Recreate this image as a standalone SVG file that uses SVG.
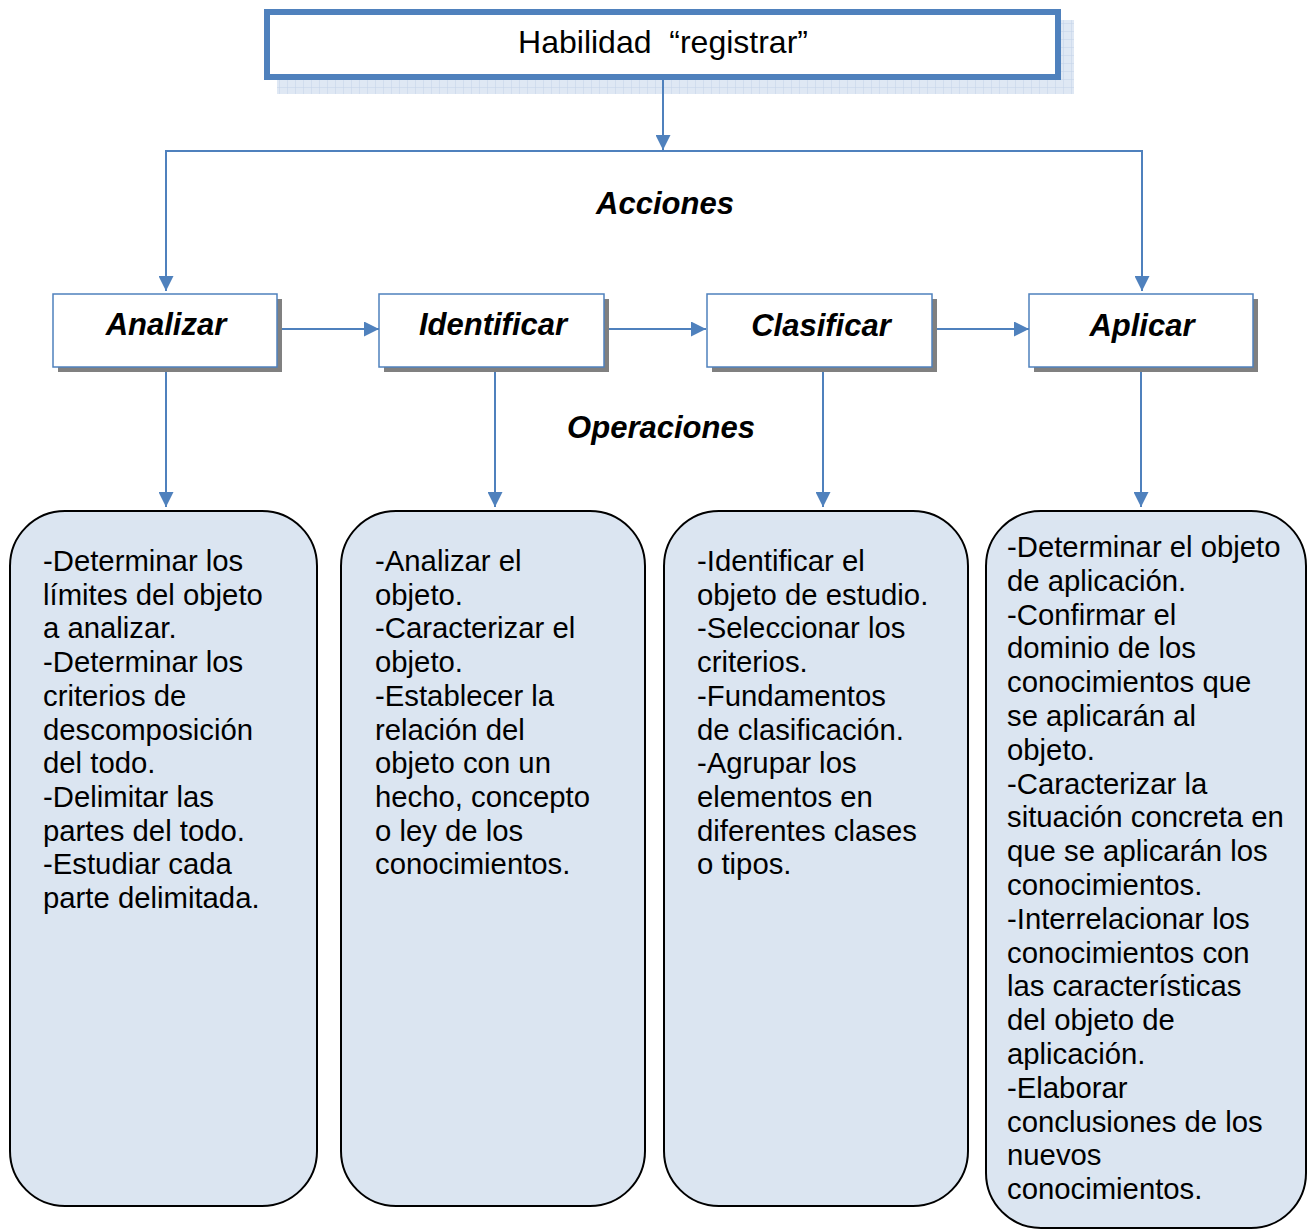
<svg xmlns="http://www.w3.org/2000/svg" width="1315" height="1230" viewBox="0 0 1315 1230">
<defs>
<style>
.conn{fill:none;stroke:#4f81bd;stroke-width:2}
.act{fill:#fff;stroke:#4f81bd;stroke-width:1.5}
.shadow{fill:#808080}
.op{fill:#dbe5f1;stroke:#000;stroke-width:2}
.lbl{font-family:"Liberation Sans",Arial,sans-serif;font-weight:bold;font-style:italic;font-size:31px;fill:#000;text-anchor:middle}
.body{font-family:"Liberation Sans",Arial,sans-serif;font-size:29.3px;fill:#000}
</style>
<pattern id="grid" width="8" height="8" patternUnits="userSpaceOnUse">
<rect width="8" height="8" fill="#dfe8f4"/>
<path d="M8,0 V8 M0,8 H8" stroke="#c3d3e9" stroke-width="1"/>
</pattern>
<marker id="arr" viewBox="0 0 10 10" refX="10" refY="5" markerWidth="15" markerHeight="15" markerUnits="userSpaceOnUse" orient="auto">
<path d="M0,0 L10,5 L0,10 z" fill="#4f81bd"/>
</marker>
</defs>
<rect width="1315" height="1230" fill="#fff"/>

<g id="title">
<rect x="277" y="20" width="797" height="74" fill="url(#grid)"/>
<rect x="267" y="12" width="791" height="65" fill="#fff" stroke="#4f81bd" stroke-width="6"/>
<text x="663" y="53" style="font-family:'Liberation Sans',Arial,sans-serif;font-size:32px;fill:#000;text-anchor:middle" xml:space="preserve">Habilidad  “registrar”</text>
</g>

<g id="connectors">
<line class="conn" x1="663" y1="80" x2="663" y2="150" marker-end="url(#arr)"/>
<polyline class="conn" points="166,291 166,151 1142,151 1142,291"/>
<line class="conn" x1="166" y1="200" x2="166" y2="291" marker-end="url(#arr)"/>
<line class="conn" x1="1142" y1="200" x2="1142" y2="291" marker-end="url(#arr)"/>
<line class="conn" x1="282" y1="329" x2="379" y2="329" marker-end="url(#arr)"/>
<line class="conn" x1="609" y1="329" x2="706" y2="329" marker-end="url(#arr)"/>
<line class="conn" x1="937" y1="329" x2="1029" y2="329" marker-end="url(#arr)"/>
<line class="conn" x1="166" y1="367" x2="166" y2="507" marker-end="url(#arr)"/>
<line class="conn" x1="495" y1="367" x2="495" y2="507" marker-end="url(#arr)"/>
<line class="conn" x1="823" y1="367" x2="823" y2="507" marker-end="url(#arr)"/>
<line class="conn" x1="1141" y1="367" x2="1141" y2="507" marker-end="url(#arr)"/>
</g>

<text id="acciones" class="lbl" x="665" y="214">Acciones</text>
<text id="operaciones" class="lbl" x="661" y="438">Operaciones</text>

<g id="analizar">
<rect class="shadow" x="58" y="299" width="224" height="73"/>
<rect class="act" x="53" y="294" width="224" height="73"/>
<text class="lbl" x="166" y="335">Analizar</text>
</g>
<g id="identificar">
<rect class="shadow" x="384" y="299" width="225" height="73"/>
<rect class="act" x="379" y="294" width="225" height="73"/>
<text class="lbl" x="493" y="335">Identificar</text>
</g>
<g id="clasificar">
<rect class="shadow" x="712" y="299" width="225" height="73"/>
<rect class="act" x="707" y="294" width="225" height="73"/>
<text class="lbl" x="821" y="336">Clasificar</text>
</g>
<g id="aplicar">
<rect class="shadow" x="1034" y="299" width="224" height="73"/>
<rect class="act" x="1029" y="294" width="224" height="73"/>
<text class="lbl" x="1142" y="336">Aplicar</text>
</g>

<g id="op-analizar">
<rect class="op" x="10" y="511" width="307" height="695" rx="55" ry="55"/>
<text class="body">
<tspan x="43" y="571">-Determinar los</tspan>
<tspan x="43" dy="33.7">límites del objeto</tspan>
<tspan x="43" dy="33.7">a analizar.</tspan>
<tspan x="43" dy="33.7">-Determinar los</tspan>
<tspan x="43" dy="33.7">criterios de</tspan>
<tspan x="43" dy="33.7">descomposición</tspan>
<tspan x="43" dy="33.7">del todo.</tspan>
<tspan x="43" dy="33.7">-Delimitar las</tspan>
<tspan x="43" dy="33.7">partes del todo.</tspan>
<tspan x="43" dy="33.7">-Estudiar cada</tspan>
<tspan x="43" dy="33.7">parte delimitada.</tspan>
</text>
</g>

<g id="op-identificar">
<rect class="op" x="341" y="511" width="304" height="695" rx="55" ry="55"/>
<text class="body">
<tspan x="375" y="571">-Analizar el</tspan>
<tspan x="375" dy="33.7">objeto.</tspan>
<tspan x="375" dy="33.7">-Caracterizar el</tspan>
<tspan x="375" dy="33.7">objeto.</tspan>
<tspan x="375" dy="33.7">-Establecer la</tspan>
<tspan x="375" dy="33.7">relación del</tspan>
<tspan x="375" dy="33.7">objeto con un</tspan>
<tspan x="375" dy="33.7">hecho, concepto</tspan>
<tspan x="375" dy="33.7">o ley de los</tspan>
<tspan x="375" dy="33.7">conocimientos.</tspan>
</text>
</g>

<g id="op-clasificar">
<rect class="op" x="664" y="511" width="304" height="695" rx="55" ry="55"/>
<text class="body">
<tspan x="697" y="571">-Identificar el</tspan>
<tspan x="697" dy="33.7">objeto de estudio.</tspan>
<tspan x="697" dy="33.7">-Seleccionar los</tspan>
<tspan x="697" dy="33.7">criterios.</tspan>
<tspan x="697" dy="33.7">-Fundamentos</tspan>
<tspan x="697" dy="33.7">de clasificación.</tspan>
<tspan x="697" dy="33.7">-Agrupar los</tspan>
<tspan x="697" dy="33.7">elementos en</tspan>
<tspan x="697" dy="33.7">diferentes clases</tspan>
<tspan x="697" dy="33.7">o tipos.</tspan>
</text>
</g>

<g id="op-aplicar">
<rect class="op" x="986" y="511" width="320" height="717" rx="55" ry="55"/>
<text class="body">
<tspan x="1007" y="557">-Determinar el objeto</tspan>
<tspan x="1007" dy="33.8">de aplicación.</tspan>
<tspan x="1007" dy="33.8">-Confirmar el</tspan>
<tspan x="1007" dy="33.8">dominio de los</tspan>
<tspan x="1007" dy="33.8">conocimientos que</tspan>
<tspan x="1007" dy="33.8">se aplicarán al</tspan>
<tspan x="1007" dy="33.8">objeto.</tspan>
<tspan x="1007" dy="33.8">-Caracterizar la</tspan>
<tspan x="1007" dy="33.8">situación concreta en</tspan>
<tspan x="1007" dy="33.8">que se aplicarán los</tspan>
<tspan x="1007" dy="33.8">conocimientos.</tspan>
<tspan x="1007" dy="33.8">-Interrelacionar los</tspan>
<tspan x="1007" dy="33.8">conocimientos con</tspan>
<tspan x="1007" dy="33.8">las características</tspan>
<tspan x="1007" dy="33.8">del objeto de</tspan>
<tspan x="1007" dy="33.8">aplicación.</tspan>
<tspan x="1007" dy="33.8">-Elaborar</tspan>
<tspan x="1007" dy="33.8">conclusiones de los</tspan>
<tspan x="1007" dy="33.8">nuevos</tspan>
<tspan x="1007" dy="33.8">conocimientos.</tspan>
</text>
</g>
</svg>
